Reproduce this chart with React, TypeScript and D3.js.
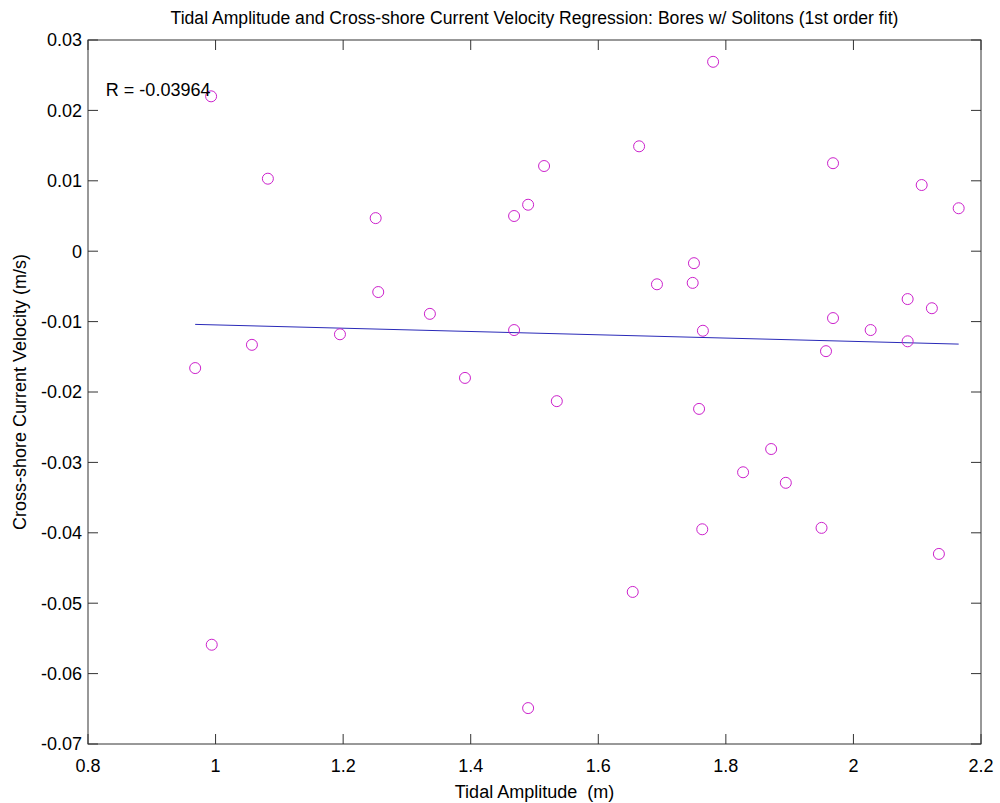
import React from "react";
import * as d3 from "d3";

const tidalAmp = [0.993, 1.082, 1.251, 1.468, 1.490, 1.515, 1.664, 1.780, 1.968, 2.107, 2.165,
  1.750, 1.748, 1.692, 1.255, 1.336, 0.968, 1.057, 1.195, 1.391, 1.468, 1.535, 1.764, 1.758,
  1.968, 2.027, 2.085, 2.123, 2.085, 1.957, 1.871, 1.827, 1.894, 1.763, 1.950, 2.134, 1.654,
  0.994, 1.490];
const velocity = [0.0220, 0.0103, 0.0047, 0.0050, 0.0066, 0.0121, 0.0149, 0.0269, 0.0125, 0.0094, 0.0061,
  -0.0017, -0.0045, -0.0047, -0.0058, -0.0089, -0.0166, -0.0133, -0.0118, -0.0180, -0.0112, -0.0213, -0.0113, -0.0224,
  -0.0095, -0.0112, -0.0068, -0.0081, -0.0128, -0.0142, -0.0281, -0.0314, -0.0329, -0.0395, -0.0393, -0.0430, -0.0484,
  -0.0559, -0.0649];
const fitSlope = -0.00234;
const fitIntercept = -0.00813;
const xTicks = [0.8, 1, 1.2, 1.4, 1.6, 1.8, 2, 2.2];
const yTicks = [0.03, 0.02, 0.01, 0, -0.01, -0.02, -0.03, -0.04, -0.05, -0.06, -0.07];
const rLabel = "R = -0.03964";

export default function App() {
  const W = 1000, H = 803;
  const L = 88, R = 981, T = 40, B = 744;
  const x = d3.scaleLinear().domain([0.8, 2.2]).range([L, R]);
  const y = d3.scaleLinear().domain([-0.07, 0.03]).range([B, T]);
  const ext = d3.extent(tidalAmp) as [number, number];
  const line = d3.line<number>().x((d) => x(d)).y((d) => y(fitIntercept + fitSlope * d));
  const font = "Arial, 'Liberation Sans', sans-serif";
  const tl = 10;
  return (
    <svg width={W} height={H} style={{ position: "absolute", left: 0, top: 0, background: "#fff" }} fontFamily={font}>
      <rect x={0} y={0} width={W} height={H} fill="#fff" />
      <text x={(L + R) / 2} y={24} textAnchor="middle" fontSize={17.6}>
        Tidal Amplitude and Cross-shore Current Velocity Regression: Bores w/ Solitons (1st order fit)
      </text>
      {xTicks.map((t) => (
        <g key={"x" + t}>
          <line x1={x(t)} x2={x(t)} y1={B} y2={B - tl} stroke="#333" />
          <line x1={x(t)} x2={x(t)} y1={T} y2={T + tl} stroke="#333" />
          <text x={x(t)} y={772} textAnchor="middle" fontSize={18}>{String(t)}</text>
        </g>
      ))}
      {yTicks.map((t) => (
        <g key={"y" + t}>
          <line x1={L} x2={L + tl} y1={y(t)} y2={y(t)} stroke="#333" />
          <line x1={R} x2={R - tl} y1={y(t)} y2={y(t)} stroke="#333" />
          <text x={82} y={y(t)} dy="0.35em" textAnchor="end" fontSize={18}>{String(t)}</text>
        </g>
      ))}
      <rect x={L} y={T} width={R - L} height={B - T} fill="none" stroke="#333" />
      <path d={line([ext[0], ext[1]]) || ""} fill="none" stroke="#2a2ab8" strokeWidth={1} />
      {tidalAmp.map((a, i) => (
        <circle key={i} cx={x(a)} cy={y(velocity[i])} r={5.5} fill="none" stroke="#cc22cc" strokeWidth={1} />
      ))}
      <text x={x(0.828)} y={y(0.0229)} dy="0.35em" fontSize={18}>{rLabel}</text>
      <text x={(L + R) / 2} y={798} textAnchor="middle" fontSize={18} style={{ whiteSpace: "pre" }}>
        {"Tidal Amplitude  (m)"}
      </text>
      <text transform={`translate(26, ${(T + B) / 2}) rotate(-90)`} textAnchor="middle" fontSize={18}>
        Cross-shore Current Velocity (m/s)
      </text>
    </svg>
  );
}
